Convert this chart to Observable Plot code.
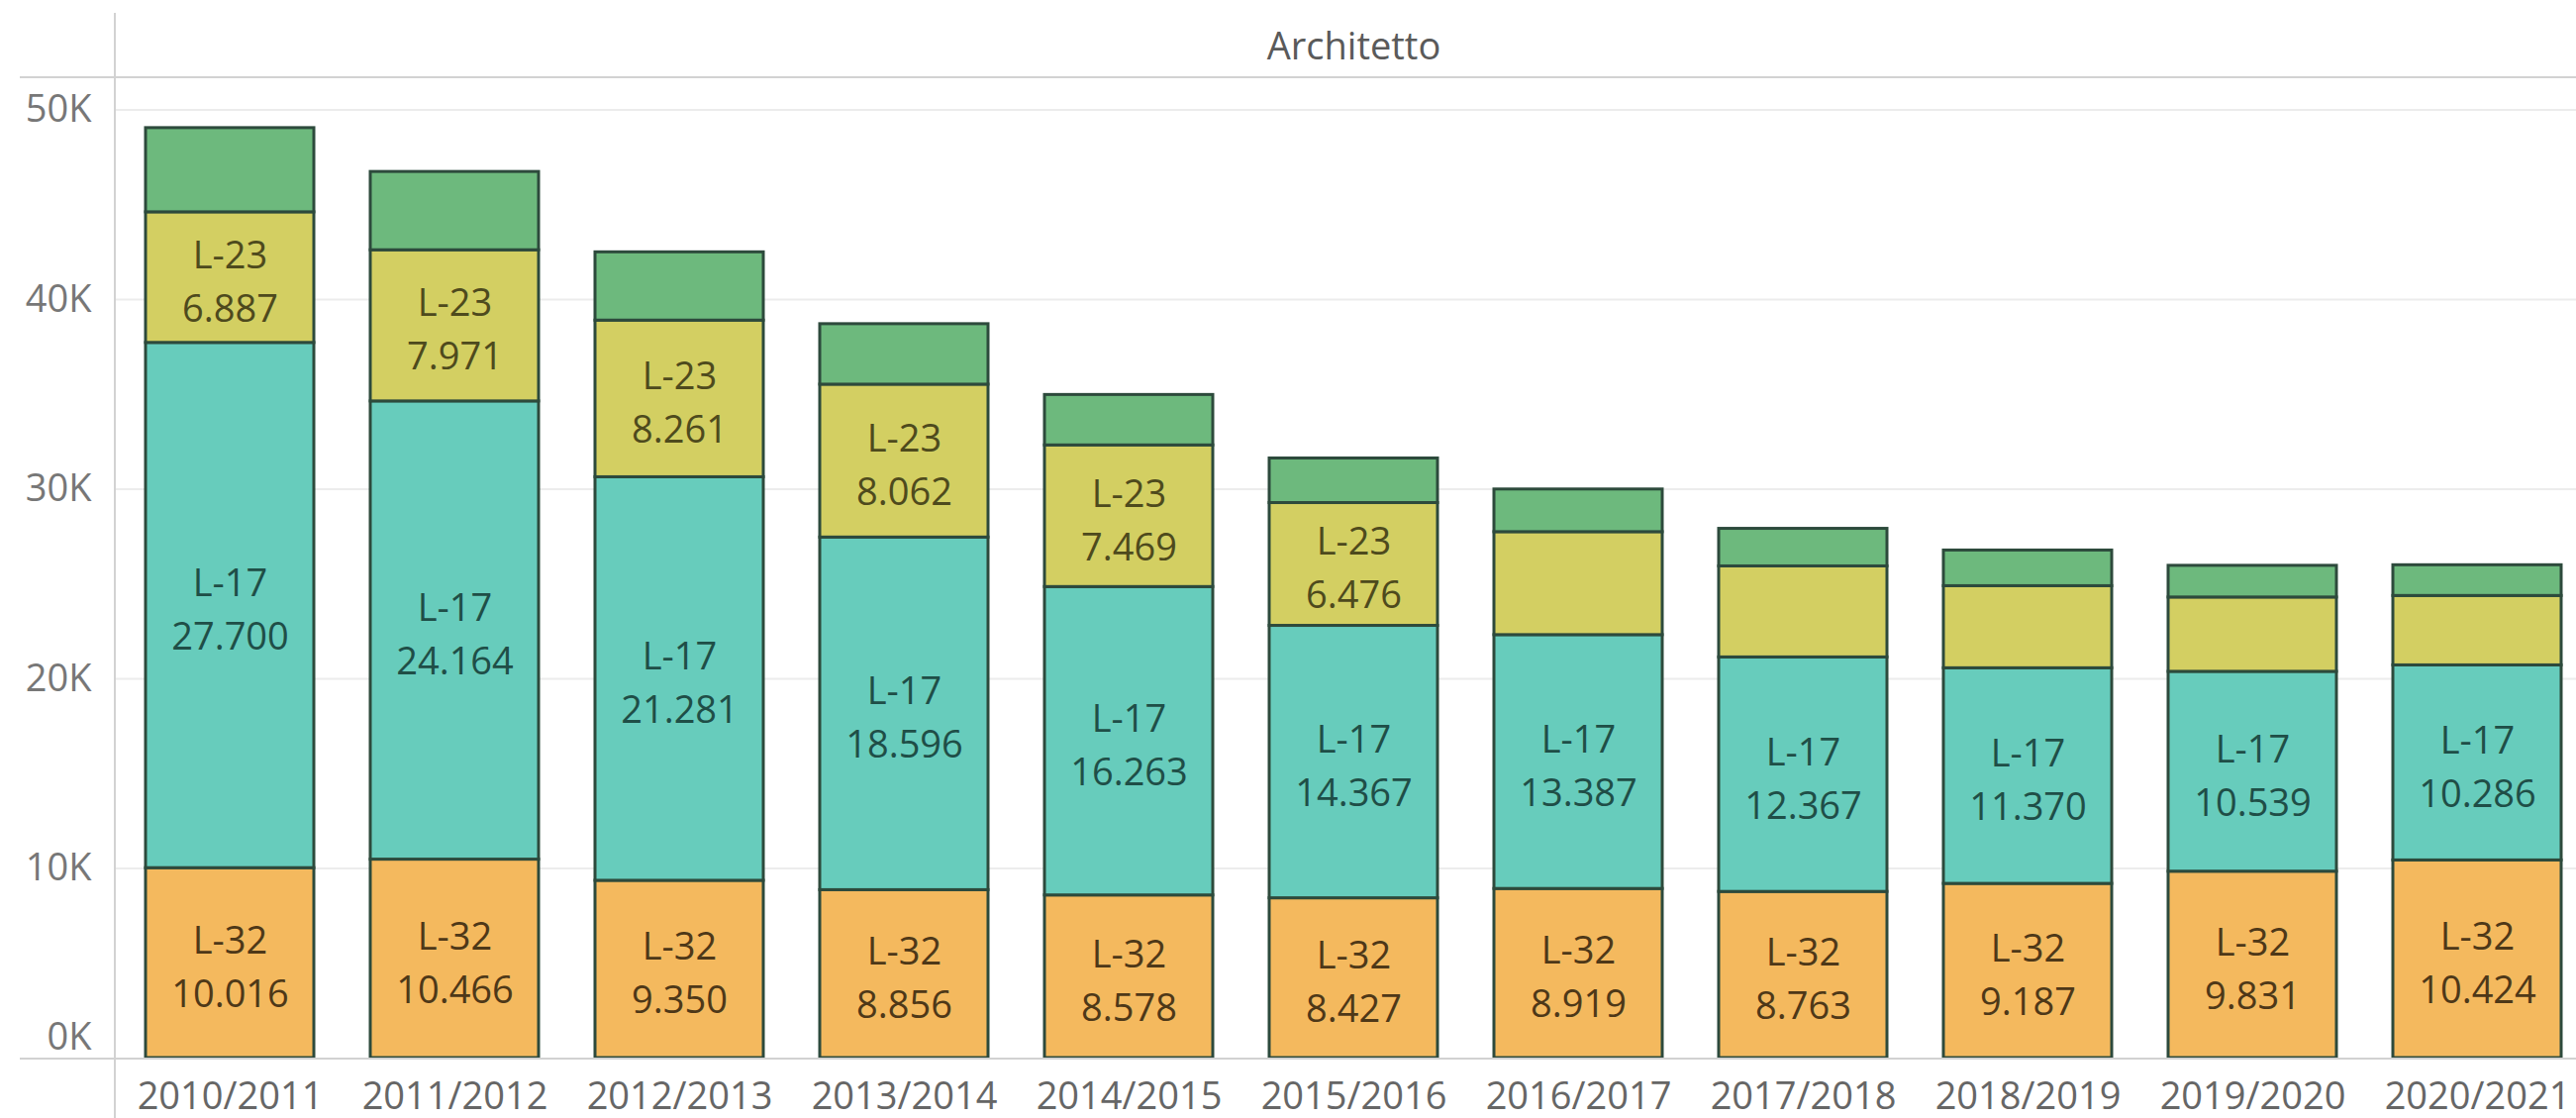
<!DOCTYPE html>
<html>
<head>
<meta charset="utf-8">
<script src="https://cdn.jsdelivr.net/npm/d3@7"></script>
<script src="https://cdn.jsdelivr.net/npm/@observablehq/plot@0.6"></script>
<style>
  html, body { margin: 0; padding: 0; background: #fff; overflow: hidden; }
  #wrap { position: relative; width: 2602px; height: 1129px; font-family: "Open Sans", sans-serif; }
  #header { position: absolute; left: 116px; top: 13px; width: 2503px; height: 64px;
            display: flex; align-items: center; justify-content: center;
            font-size: 38px; color: #5a5a5a; }
  #chart { position: absolute; left: 0; top: 78px; }
  .vline { position: absolute; left: 115px; top: 13px; width: 2px; height: 1116px; background: #d2d2d2; z-index: 2; }
  .hline { position: absolute; left: 20px; right: 0; height: 2px; background: #d2d2d2; }
</style>
</head>
<body>
<div id="wrap">
  <div id="header">Architetto</div>
  <div class="hline" style="top:77px"></div>
  <div id="chart"></div>
  <div class="hline" style="top:1068px; z-index:0"></div>
  <div class="vline"></div>
</div>
<script>
// ---- data ----
const years = ["2010/2011", "2011/2012", "2012/2013", "2013/2014", "2014/2015", "2015/2016",
               "2016/2017", "2017/2018", "2018/2019", "2019/2020", "2020/2021"];
const series = ["L-32", "L-17", "L-23", "Altro"];
const l32   = [10016, 10466, 9350, 8856, 8578, 8427, 8919, 8763, 9187, 9831, 10424];
const l17   = [27700, 24164, 21281, 18596, 16263, 14367, 13387, 12367, 11370, 10539, 10286];
const l23   = [6887, 7971, 8261, 8062, 7469, 6476, 5430, 4800, 4330, 3920, 3660];
const l23Labeled = [true, true, true, true, true, true, false, false, false, false, false];
const altro = [4440, 4130, 3600, 3190, 2660, 2350, 2250, 1980, 1880, 1670, 1620];
const yTicks = [0, 10000, 20000, 30000, 40000, 50000];

// ---- styles ----
const fills = ["#F4B95E", "#67CCBC", "#D3CF62", "#6DB97D"];
const textColors = {"L-32": "#4E3818", "L-17": "#1F4E47", "L-23": "#4E4A1D"};

const rows = [];
years.forEach((yr, i) => {
  rows.push({year: yr, series: "L-32", value: l32[i], labeled: true});
  rows.push({year: yr, series: "L-17", value: l17[i], labeled: true});
  rows.push({year: yr, series: "L-23", value: l23[i], labeled: l23Labeled[i]});
  rows.push({year: yr, series: "Altro", value: altro[i], labeled: false});
});

const fmt = d3.formatLocale({decimal: ",", thousands: ".", grouping: [3], currency: ["", ""]}).format(",d");
const kfmt = d => (d / 1000) + "K";

const labelMarks = ["L-32", "L-17", "L-23"].map(s =>
  Plot.text(rows, Plot.stackY({
    x: "year", y: "value", z: "series",
    text: d => (d.series === s && d.labeled) ? `${d.series}\n${fmt(d.value)}` : null,
    fill: textColors[s], fontSize: 38, lineHeight: 1.42
  }))
);

const chart = Plot.plot({
  width: 2602, height: 1051,
  marginLeft: 116, marginRight: 0, marginTop: 0, marginBottom: 61,
  x: {domain: years, range: [116, 2619], paddingInner: 0.25, paddingOuter: 0.132, label: null},
  y: {domain: [0, 51700], range: [990, 0], label: null},
  color: {type: "ordinal", domain: series, range: fills},
  style: {fontFamily: "Open Sans", background: "transparent", overflow: "visible"},
  marks: [
    Plot.gridY(yTicks.filter(v => v > 0), {stroke: "#ececec", strokeOpacity: 1, strokeWidth: 2}),
    Plot.barY(rows, {x: "year", y: "value", fill: "series", stroke: "#2d4a3c", strokeWidth: 3}),
    ...labelMarks,
    Plot.axisX({tickSize: 0, tickPadding: 25, fontSize: 38, fill: "#666", label: null}),
    Plot.axisY(yTicks.filter(v => v > 0), {tickSize: 0, tickPadding: 24, fontSize: 38, fill: "#777", tickFormat: kfmt, label: null}),
    Plot.axisY([0], {tickSize: 0, tickPadding: 24, fontSize: 38, fill: "#777", tickFormat: kfmt, dy: -21, label: null})
  ]
});
document.getElementById("chart").appendChild(chart);
</script>
</body>
</html>
